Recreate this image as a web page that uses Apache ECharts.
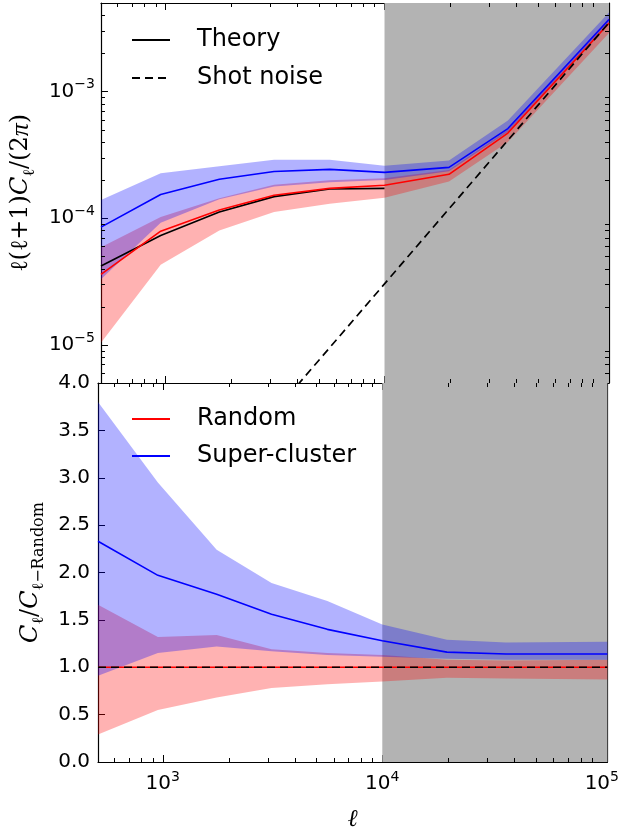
<!DOCTYPE html>
<html>
<head>
<meta charset="utf-8">
<script src="https://cdn.jsdelivr.net/npm/echarts@6/dist/echarts.min.js"></script>
<style>
  html, body { margin: 0; padding: 0; background: #fff; }
  #chart { width: 622px; height: 833px; }
</style>
</head>
<body>
<div id="chart"></div>
<script>
// multipole bins
const ell = [507, 950, 1760, 3130, 5620, 10000, 19700, 36600, 106000]
const theoryEll = [507, 950, 1760, 3130, 5620, 10000]

// top panel: l(l+1)C_l/(2pi)
const theory = [4.2e-5, 7.3e-5, 1.12e-4, 1.48e-4, 1.70e-4, 1.72e-4]
const randomCl = [3.6e-5, 7.9e-5, 1.16e-4, 1.52e-4, 1.72e-4, 1.82e-4, 2.22e-4, 4.7e-4, 3.46e-3]
const randomLo = [1.04e-5, 4.3e-5, 8.0e-5, 1.12e-4, 1.3e-4, 1.45e-4, 1.95e-4, 4.0e-4, 2.9e-3]
const randomHi = [5.9e-5, 1.02e-4, 1.44e-4, 1.84e-4, 1.99e-4, 2.07e-4, 2.4e-4, 5.0e-4, 3.8e-3]
const superCl = [8.5e-5, 1.54e-4, 2.03e-4, 2.34e-4, 2.43e-4, 2.3e-4, 2.52e-4, 5.1e-4, 3.7e-3]
const superLo = [3.3e-5, 9.2e-5, 1.41e-4, 1.78e-4, 1.92e-4, 2.0e-4, 2.35e-4, 4.8e-4, 3.45e-3]
const superHi = [1.39e-4, 2.26e-4, 2.57e-4, 2.9e-4, 2.9e-4, 2.6e-4, 2.86e-4, 5.9e-4, 4.2e-3]
const shotEll = [4000, 106000]
const shotNoise = [4.8e-6, 3.5e-3]

// bottom panel: ratio to random
const randomRatio = [1, 1, 1, 1, 1, 1, 1, 1, 1]
const randomRatioLo = [0.29, 0.55, 0.68, 0.78, 0.82, 0.85, 0.89, 0.88, 0.87]
const randomRatioHi = [1.66, 1.32, 1.34, 1.19, 1.15, 1.13, 1.08, 1.07, 1.08]
const superRatio = [2.33, 1.97, 1.77, 1.56, 1.4, 1.28, 1.16, 1.14, 1.14]
const superRatioLo = [0.91, 1.15, 1.22, 1.17, 1.13, 1.11, 1.09, 1.08, 1.08]
const superRatioHi = [3.8, 2.95, 2.24, 1.89, 1.7, 1.45, 1.29, 1.26, 1.27]
const unityEll = [507, 106000]
const unity = [1, 1]

// minor tick positions of the log axes
const xMinor = [600, 700, 800, 900, 2000, 3000, 4000, 5000, 6000, 7000, 8000, 9000,
  20000, 30000, 40000, 50000, 60000, 70000, 80000, 90000]
const yMinor = [6e-6, 7e-6, 8e-6, 9e-6, 2e-5, 3e-5, 4e-5, 5e-5, 6e-5, 7e-5, 8e-5, 9e-5,
  2e-4, 3e-4, 4e-4, 5e-4, 6e-4, 7e-4, 8e-4, 9e-4, 2e-3, 3e-3, 4e-3]

const X_MIN = 507, X_MAX = 106000
const Y_MIN = 5e-6, Y_MAX = 5e-3
const SHADE_FROM = 10000

const SANS = 'DejaVu Sans'
const SERIF = 'DejaVu Serif'
const SERIF2 = 'Liberation Serif'
const RED = '#ff0000', BLUE = '#0000ff'

const chart = echarts.init(document.getElementById('chart'), null, { renderer: 'canvas' })

const pow10Rich = {
  b: { fontFamily: SANS, fontSize: 20, color: '#000', lineHeight: 28 },
  s: { fontFamily: SANS, fontSize: 14, color: '#000', lineHeight: 14, verticalAlign: 'top' },
}
function pow10Label(v) {
  const e = Math.round(Math.log10(v))
  if (Math.abs(v / Math.pow(10, e) - 1) > 1e-6) return ''
  return '{b|10}{s|' + (e < 0 ? '\u2212' + (-e) : e) + '}'
}

function logX(gridIndex, position, showLabel) {
  return {
    type: 'log', gridIndex, position, min: X_MIN, max: X_MAX, logBase: 10,
    axisLine: { show: true, onZero: false, lineStyle: { color: '#000', width: 1.2 } },
    axisTick: { show: true, inside: true, length: 7, lineStyle: { color: '#000', width: 1 } },
    axisLabel: showLabel ? { show: true, margin: 8, formatter: pow10Label, rich: pow10Rich } : { show: false },
    splitLine: { show: false },
    minorTick: { show: false },
  }
}
function logY(gridIndex, position, showLabel) {
  return {
    type: 'log', gridIndex, position, min: Y_MIN, max: Y_MAX, logBase: 10,
    axisLine: { show: true, onZero: false, lineStyle: { color: '#000', width: 1.2 } },
    axisTick: { show: true, inside: true, length: 7, lineStyle: { color: '#000', width: 1 } },
    axisLabel: showLabel ? { show: true, margin: 6, formatter: pow10Label, rich: pow10Rich } : { show: false },
    splitLine: { show: false },
  }
}
function linY(gridIndex, position, showLabel) {
  return {
    type: 'value', gridIndex, position, min: 0, max: 4, interval: 0.5,
    axisLine: { show: true, onZero: false, lineStyle: { color: '#000', width: 1.2 } },
    axisTick: { show: true, inside: true, length: 7, lineStyle: { color: '#000', width: 1 } },
    axisLabel: showLabel ? {
      show: true, margin: 8, color: '#000', fontFamily: SANS, fontSize: 20,
      formatter: v => v.toFixed(1),
    } : { show: false },
    splitLine: { show: false },
  }
}

function pairs(xs, ys) {
  return xs.map((x, i) => [x, ys[i]])
}

function band(name, xi, yi, xs, lo, hi, color, z) {
  return {
    name, type: 'custom', xAxisIndex: xi, yAxisIndex: yi, z, silent: true,
    data: [[xs[0], lo[0]]],
    renderItem(params, api) {
      const pts = []
      xs.forEach((x, i) => pts.push(api.coord([x, hi[i]])))
      for (let i = xs.length - 1; i >= 0; i--) pts.push(api.coord([xs[i], lo[i]]))
      return { type: 'polygon', shape: { points: pts }, style: { fill: color } }
    },
  }
}

function line(name, xi, yi, xs, ys, color, dashed, z) {
  return {
    name, type: 'line', xAxisIndex: xi, yAxisIndex: yi, z,
    data: pairs(xs, ys), symbol: 'none', showSymbol: false, clip: true,
    lineStyle: { color, width: dashed ? 1.7 : 1.6, type: dashed ? [8, 5] : 'solid' },
    itemStyle: { color },
  }
}

function shade(xi, yi) {
  return {
    type: 'line', xAxisIndex: xi, yAxisIndex: yi, z: 0, silent: true,
    data: [], symbol: 'none',
    markArea: {
      silent: true,
      itemStyle: { color: '#b3b3b3', opacity: 1 },
      data: [[{ xAxis: SHADE_FROM }, { xAxis: X_MAX }]],
    },
  }
}

// minor ticks of the log axes, drawn inward at both edges of the grid
function minorTicks(xi, yi, xVals, yVals, xRef, yRef) {
  return {
    type: 'custom', xAxisIndex: xi, yAxisIndex: yi, z: 20, silent: true, clip: false,
    data: [[xRef, yRef]],
    renderItem(params, api) {
      const cs = params.coordSys
      const st = { stroke: '#000', lineWidth: 1 }
      const kids = []
      const L = 4
      xVals.forEach(v => {
        const x = Math.round(api.coord([v, yRef])[0]) + 0.5
        kids.push({ type: 'line', shape: { x1: x, y1: cs.y + cs.height, x2: x, y2: cs.y + cs.height - L }, style: st })
        kids.push({ type: 'line', shape: { x1: x, y1: cs.y, x2: x, y2: cs.y + L }, style: st })
      })
      yVals.forEach(v => {
        const y = Math.round(api.coord([xRef, v])[1]) + 0.5
        kids.push({ type: 'line', shape: { x1: cs.x, y1: y, x2: cs.x + L, y2: y }, style: st })
        kids.push({ type: 'line', shape: { x1: cs.x + cs.width, y1: y, x2: cs.x + cs.width - L, y2: y }, style: st })
      })
      return { type: 'group', children: kids }
    },
  }
}

const legendText = { color: '#000', fontFamily: SANS, fontSize: 24, padding: [0, 0, 0, 22] }
const mathRich = {
  r: { fontFamily: SERIF, fontSize: 24, color: '#000', lineHeight: 34 },
  it: { fontFamily: SERIF, fontStyle: 'italic', fontSize: 24, color: '#000', lineHeight: 34 },
  pi: { fontFamily: SERIF2, fontStyle: 'italic', fontSize: 26, color: '#000', lineHeight: 34 },
  sub: { fontFamily: SERIF, fontSize: 16, color: '#000', lineHeight: 16, verticalAlign: 'bottom' },
}

const option = {
  backgroundColor: '#fff',
  animation: false,
  grid: [
    { left: 98, top: 3, width: 511, height: 380, containLabel: false },
    { left: 98, top: 383, width: 511, height: 380, containLabel: false },
  ],
  legend: [
    {
      data: ['Theory', 'Shot noise'], orient: 'vertical', left: 126, top: 23,
      itemWidth: 38, itemHeight: 14, itemGap: 14, textStyle: legendText, selectedMode: false,
      itemStyle: { opacity: 0 },
    },
    {
      data: ['Random', 'Super-cluster'], orient: 'vertical', left: 126, top: 402,
      itemWidth: 38, itemHeight: 14, itemGap: 13, textStyle: legendText, selectedMode: false,
      itemStyle: { opacity: 0 },
    },
  ],
  xAxis: [
    logX(0, 'bottom', false),
    logX(0, 'top', false),
    Object.assign(logX(1, 'bottom', true), {
      name: '{it|\u2113}', nameLocation: 'middle', nameGap: 46,
      nameTextStyle: { rich: { it: { fontFamily: SERIF, fontStyle: 'italic', fontSize: 24, color: '#000' } } },
    }),
    logX(1, 'top', false),
  ],
  yAxis: [
    Object.assign(logY(0, 'left', true), {
      name: '{r|\u2113(\u2113+1)}{it|C}{sub|\u2113}{r|/(2}{pi|\u03c0}{r|)}',
      nameLocation: 'middle', nameRotate: 90, nameGap: 60,
      nameTextStyle: { rich: mathRich },
    }),
    logY(0, 'right', false),
    Object.assign(linY(1, 'left', true), {
      name: '{it|C}{sub|\u2113}{r|/}{it|C}{sub|\u2113\u2212Random}',
      nameLocation: 'middle', nameRotate: 90, nameGap: 50,
      nameTextStyle: { rich: mathRich },
    }),
    linY(1, 'right', false),
  ],
  series: [
    // top panel
    shade(0, 0),
    band('randomBandTop', 0, 0, ell, randomLo, randomHi, 'rgba(255,0,0,0.3)', 1),
    band('superBandTop', 0, 0, ell, superLo, superHi, 'rgba(0,0,255,0.3)', 1),
    line('Theory', 0, 0, theoryEll, theory, '#000', false, 5),
    line('Random', 0, 0, ell, randomCl, RED, false, 6),
    line('Super-cluster', 0, 0, ell, superCl, BLUE, false, 6),
    line('Shot noise', 0, 0, shotEll, shotNoise, '#000', true, 7),
    minorTicks(0, 0, xMinor, yMinor, X_MIN, Y_MIN),
    // bottom panel
    shade(2, 2),
    band('randomBandRatio', 2, 2, ell, randomRatioLo, randomRatioHi, 'rgba(255,0,0,0.3)', 1),
    band('superBandRatio', 2, 2, ell, superRatioLo, superRatioHi, 'rgba(0,0,255,0.3)', 1),
    line('Random', 2, 2, ell, randomRatio, RED, false, 6),
    line('Super-cluster', 2, 2, ell, superRatio, BLUE, false, 6),
    line('unity', 2, 2, unityEll, unity, '#000', true, 7),
    minorTicks(2, 2, xMinor, [], X_MIN, 1),
  ],
}

chart.setOption(option)
</script>
</body>
</html>
